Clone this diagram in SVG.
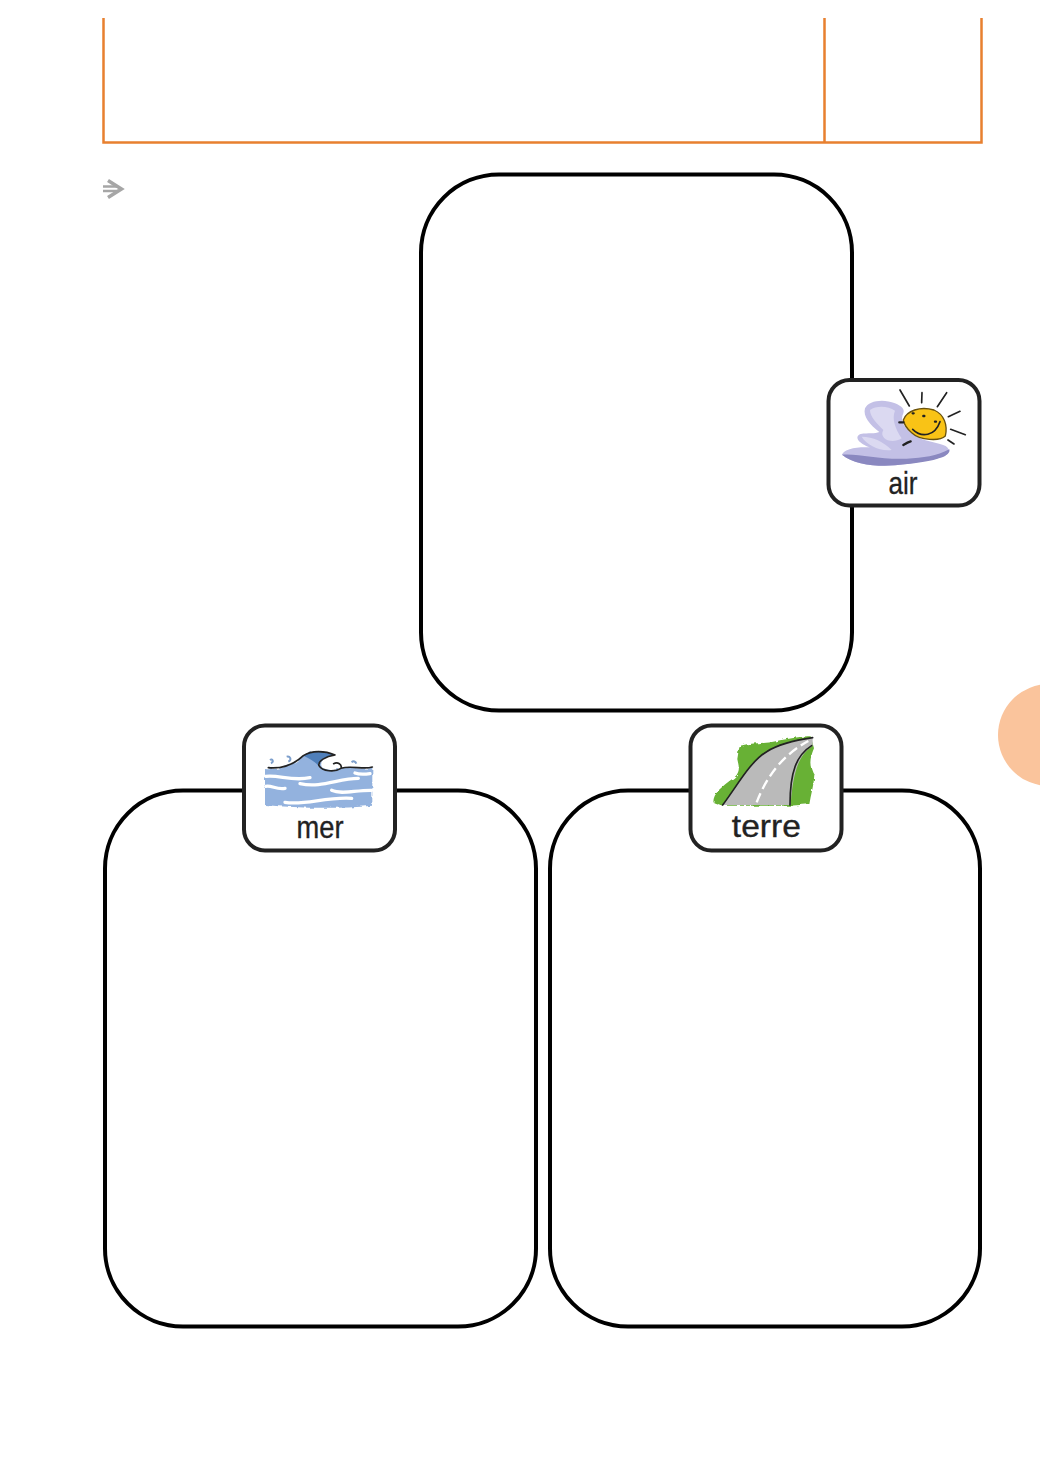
<svg xmlns="http://www.w3.org/2000/svg" width="1040" height="1471" viewBox="0 0 1040 1471">
<defs>
<style>
.frame{fill:none;stroke:#e8802f;stroke-width:2.500}
.box{fill:#fff;stroke:#000;stroke-width:4}
.card{fill:#fff;stroke:#222;stroke-width:4}
.lab{font-family:"Liberation Sans",Arial,sans-serif;font-size:93px;fill:#222;stroke:#222;stroke-width:1;text-anchor:middle}
.ink{fill:none;stroke:#222;stroke-linecap:round;stroke-linejoin:round}
.wave{fill:none;stroke:#fff;stroke-width:10;stroke-linecap:round}
</style>
<filter id="soft" x="-5%" y="-5%" width="110%" height="110%"><feGaussianBlur stdDeviation="1.200"/></filter>
<filter id="rough" x="-8%" y="-8%" width="116%" height="116%"><feTurbulence type="fractalNoise" baseFrequency=".05" numOctaves="2" seed="4"/><feDisplacementMap in="SourceGraphic" scale="12"/><feGaussianBlur stdDeviation="1.500"/></filter>
</defs>
<rect width="1040" height="1471" fill="#fff"/>
<g id="frame">
<path class="frame" d="M103.500 18V142.500H981.500V18M824.500 18V142.500"/>
</g>
<g id="arrow-mark" fill="none" stroke="#a6a6a6">
<path d="M103 186.500H118M103 191H118" stroke-width="2.500"/>
<path d="M108 180.500L121.500 189L108 197.500" stroke-width="3.500"/>
</g>
<circle id="tab" cx="1049" cy="735" r="51" fill="#fac49c"/>
<g id="box-air"><rect class="box" x="421" y="174.500" width="431" height="536" rx="78" ry="78"/></g>
<g id="box-mer"><rect class="box" x="105" y="790.500" width="431" height="536" rx="78" ry="78"/></g>
<g id="box-terre"><rect class="box" x="550" y="790.500" width="430" height="536" rx="78" ry="78"/></g>
<g id="card-air">
<rect class="card" x="828.500" y="380" width="151" height="125.500" rx="21"/>
<g transform="translate(820 370) scale(.3333)">
<g filter="url(#soft)">
<path d="M66 254C72 238 105 230 150 232C118 222 100 200 122 192C145 188 165 192 178 186C150 165 128 140 135 115C145 92 190 85 225 100C245 108 255 118 250 130C240 150 250 170 275 190C295 208 330 215 360 222C388 228 395 245 375 258C340 270 300 276 255 283C190 292 105 288 66 254Z" fill="#c3c0e6"/>
<path d="M66 254C120 250 180 270 260 266C310 264 350 258 388 238C394 258 350 274 255 283C190 292 105 288 66 254Z" fill="#8a88c0"/>
<path d="M150 120C170 105 205 108 225 122C215 145 225 175 245 205C215 225 175 205 190 180C170 160 150 140 150 120ZM125 200C160 200 190 215 215 240C180 245 140 225 125 200Z" fill="#dbd9f1"/>
<path d="M250 150C260 122 300 108 342 120C372 133 384 165 376 198C360 214 300 212 275 188C260 176 253 165 250 150Z" fill="#f9c316" stroke="#6a5210" stroke-width="4"/>
<path class="ink" stroke-width="5" d="M278 178C305 205 345 198 360 155M240 60L268 108M306 68L305 98M380 68L352 110M420 124L385 140M436 194L392 178M402 222L384 210"/>
<path class="ink" stroke-width="7" d="M238 157H250M250 225C258 220 265 216 272 214M278 130H281M310 138H313M345 155H348"/>
</g>
<text class="lab" x="249" y="372" textLength="87" lengthAdjust="spacingAndGlyphs">air</text>
</g>
</g>
<g id="card-mer">
<rect class="card" x="244" y="725.500" width="151" height="125" rx="21"/>
<g transform="translate(235 715) scale(.3333)">
<path filter="url(#rough)" d="M90 162C130 165 170 155 200 125C225 105 270 105 300 120C270 125 250 140 262 158C285 168 310 165 320 158C350 155 385 165 412 158V272C310 282 190 280 90 270Z" fill="#93b2de"/>
<g filter="url(#soft)">
<path d="M205 122C225 106 270 106 300 120C270 124 248 136 250 152C238 138 222 130 205 122Z" fill="#4f7fba"/>
<path class="ink" stroke-width="5" d="M100 158C140 162 175 150 205 122C230 105 270 107 300 120C272 124 248 138 252 152C262 170 300 172 318 160C322 148 308 140 296 146M318 160C350 150 385 165 412 156"/>
<path d="M105 135C112 130 118 140 108 145M155 125C165 122 172 135 160 140M350 142C355 136 362 140 364 146" fill="none" stroke="#7d9fcc" stroke-width="6"/>
<path class="wave" d="M92 184C130 178 170 200 225 188M195 206C260 220 310 190 370 190M92 214C110 210 125 225 150 220M290 226C320 240 360 225 410 226M150 262C210 272 270 245 350 250M360 174C375 180 390 178 405 176"/>
</g>
<text class="lab" x="255" y="369" textLength="141" lengthAdjust="spacingAndGlyphs">mer</text>
</g>
</g>
<g id="card-terre">
<rect class="card" x="690.500" y="725.500" width="151" height="125" rx="21"/>
<g transform="translate(680 715) scale(.3333)">
<path filter="url(#rough)" d="M180 92C220 82 260 88 300 76C335 70 365 62 392 64L402 100C390 130 385 150 403 180C402 210 392 240 388 268L330 272L128 272L100 262C100 235 125 215 160 190C185 170 175 150 172 132C175 115 175 105 180 92Z" fill="#67b135"/>
<g filter="url(#soft)">
<path d="M128 270C170 215 210 140 260 110C300 85 350 75 398 68V92C365 115 340 150 332 270Z" fill="#bababa"/>
<path class="ink" stroke-width="5" d="M128 270C170 215 210 140 260 110C300 85 350 75 398 68M395 92C350 120 330 170 330 270"/>
<path fill="none" stroke="#fff" stroke-width="7" stroke-dasharray="30 14" d="M230 262C250 210 290 130 385 78"/>
</g>
<text class="lab" x="259" y="366" textLength="207" lengthAdjust="spacingAndGlyphs">terre</text>
</g>
</g>
</svg>
